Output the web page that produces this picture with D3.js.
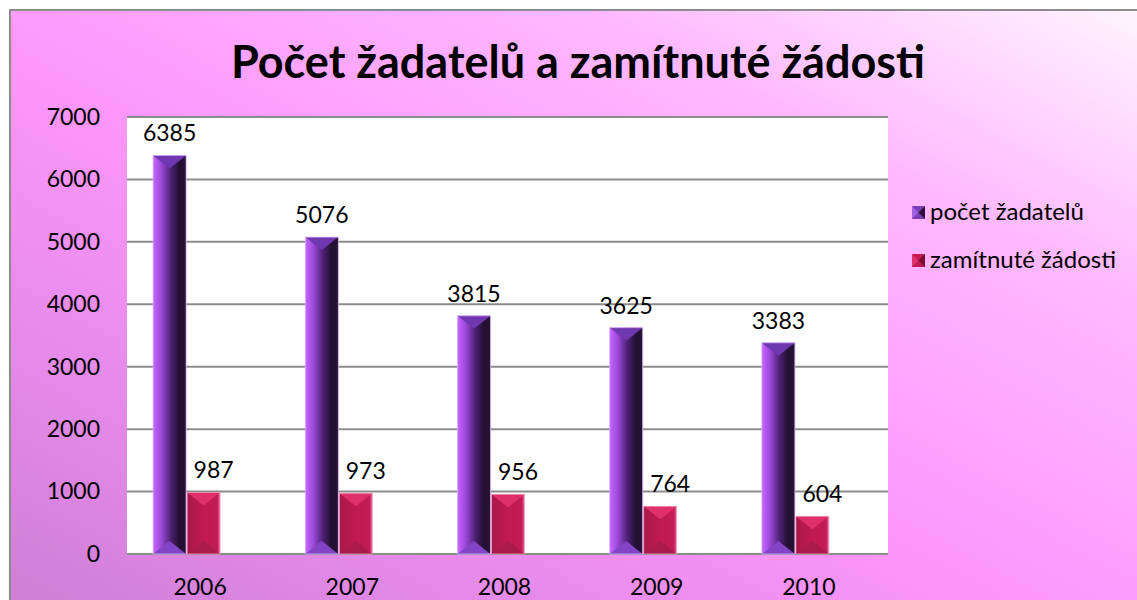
<!DOCTYPE html>
<html>
<head>
<meta charset="utf-8">
<script src="https://cdn.jsdelivr.net/npm/d3@7"></script>
<style>
  body { margin: 0; background: #fff; }
  svg { display: block; font-family: Lato, "Open Sans", sans-serif; }
</style>
</head>
<body>
<script>
(function() {

    // Data
    var years = ['2006', '2007', '2008', '2009', '2010'];
    var applicants = [6385, 5076, 3815, 3625, 3383];
    var rejected = [987, 973, 956, 764, 604];
    var seriesNames = ['počet žadatelů', 'zamítnuté žádosti'];
    var yTicks = [0, 1000, 2000, 3000, 4000, 5000, 6000, 7000];

    var W = 1137, H = 600;
    var plot = {left: 127, top: 117, right: 888, bottom: 554};

    var svg = d3.select('body').append('svg')
        .attr('width', W)
        .attr('height', H);

    var defs = svg.append('defs');

    // Chart background gradient
    var bg = defs.append('linearGradient')
        .attr('id', 'bg')
        .attr('x1', '0%').attr('y1', '100%')
        .attr('x2', '100%').attr('y2', '0%');
    bg.append('stop').attr('offset', '0%').attr('stop-color', '#cd7ed5');
    bg.append('stop').attr('offset', '45%').attr('stop-color', '#fc96fc');
    bg.append('stop').attr('offset', '75%').attr('stop-color', '#ffb8ff');
    bg.append('stop').attr('offset', '100%').attr('stop-color', '#fff6ff');

    // Purple bar body gradient
    var gp = defs.append('linearGradient').attr('id', 'gp');
    gp.append('stop').attr('offset', '0%').attr('stop-color', '#c866ff');
    gp.append('stop').attr('offset', '25%').attr('stop-color', '#9a48d8');
    gp.append('stop').attr('offset', '55%').attr('stop-color', '#4a2070');
    gp.append('stop').attr('offset', '80%').attr('stop-color', '#22102e');
    gp.append('stop').attr('offset', '100%').attr('stop-color', '#2a1238');

    // Red bar body gradient
    var gr = defs.append('linearGradient').attr('id', 'gr');
    gr.append('stop').attr('offset', '0%').attr('stop-color', '#a81848');
    gr.append('stop').attr('offset', '50%').attr('stop-color', '#c01a52');
    gr.append('stop').attr('offset', '92%').attr('stop-color', '#c41c56');
    gr.append('stop').attr('offset', '100%').attr('stop-color', '#f070a0');

    svg.append('rect')
        .attr('x', 10).attr('y', 10)
        .attr('width', W + 10).attr('height', H + 10)
        .attr('fill', 'url(#bg)')
        .attr('stroke', '#8c8c8c')
        .attr('stroke-width', 2);

    // Title
    svg.append('text')
        .attr('x', 578).attr('y', 78)
        .attr('text-anchor', 'middle')
        .attr('font-size', 45)
        .attr('font-weight', 'bold')
        .attr('fill', '#000')
        .text('Počet žadatelů a zamítnuté žádosti');

    // Scales
    var x = d3.scaleBand().domain(years).range([plot.left, plot.right]);
    var y = d3.scaleLinear().domain([0, 7000]).range([plot.bottom, plot.top]);

    // Plot area
    svg.append('rect')
        .attr('x', plot.left).attr('y', plot.top)
        .attr('width', plot.right - plot.left)
        .attr('height', plot.bottom - plot.top)
        .attr('fill', '#fff');

    // Gridlines
    svg.append('g')
        .selectAll('line')
        .data(yTicks)
        .enter().append('line')
        .attr('x1', plot.left).attr('x2', plot.right)
        .attr('y1', function(d) { return y(d); })
        .attr('y2', function(d) { return y(d); })
        .attr('stroke', '#8c8c8c')
        .attr('stroke-width', 2);

    // Y axis labels
    var yAxis = svg.append('g')
        .attr('transform', 'translate(' + (plot.left - 14) + ',0)')
        .call(d3.axisLeft(y).tickValues(yTicks).tickFormat(d3.format('d'))
            .tickSize(0).tickPadding(13));
    yAxis.select('.domain').remove();
    yAxis.selectAll('text')
        .attr('font-family', 'Lato, sans-serif')
        .attr('font-size', 23)
        .attr('fill', '#000');

    // X axis labels
    var xAxis = svg.append('g')
        .attr('transform', 'translate(-3,' + (plot.bottom + 25) + ')')
        .call(d3.axisBottom(x).tickSize(0).tickPadding(0));
    xAxis.select('.domain').remove();
    xAxis.selectAll('text')
        .attr('font-family', 'Lato, sans-serif')
        .attr('font-size', 23)
        .attr('fill', '#000');

    var bw = 33;
    function barX(year, s) {
        return x(year) + x.bandwidth() / 2 - 50 + s * 34;
    }

    // Draw one bevelled bar
    function drawBar(g, x0, v, s) {
        var top = y(v), bot = y(0);
        var cap = 13;
        var xc = x0 + bw / 2;
        g.append('rect')
            .attr('x', x0).attr('y', top)
            .attr('width', bw).attr('height', bot - top)
            .attr('fill', s === 0 ? 'url(#gp)' : 'url(#gr)');
        g.append('path')
            .attr('d', 'M' + x0 + ',' + top + 'L' + (x0 + bw) + ',' + top +
                'L' + xc + ',' + (top + cap) + 'Z')
            .attr('fill', s === 0 ? '#7038b0' : '#e0306c');
        g.append('path')
            .attr('d', 'M' + x0 + ',' + bot + 'L' + (x0 + bw) + ',' + bot +
                'L' + xc + ',' + (bot - cap) + 'Z')
            .attr('fill', s === 0 ? '#8344c8' : '#aa1a4a');
        g.append('rect')
            .attr('x', x0).attr('y', top)
            .attr('width', bw).attr('height', bot - top)
            .attr('fill', 'none')
            .attr('stroke', s === 0 ? '#d9b0ff' : '#f0a0c0')
            .attr('stroke-width', 0.8);
    }

    var bars = svg.append('g');
    [applicants, rejected].forEach(function(vals, s) {
        vals.forEach(function(v, i) {
            drawBar(bars, barX(years[i], s), v, s);
        });
    });

    // Data labels
    var labels = svg.append('g')
        .attr('font-size', 23)
        .attr('text-anchor', 'middle')
        .attr('fill', '#000');
    [applicants, rejected].forEach(function(vals, s) {
        labels.selectAll(null)
            .data(vals)
            .enter().append('text')
            .attr('x', function(d, i) { return barX(years[i], s) + bw / 2 + (s === 0 ? 0 : 10); })
            .attr('y', function(d) { return y(d) - 14; })
            .text(function(d) { return d; });
    });

    // Legend
    var legend = svg.append('g');
    var legendColors = [['#7a3cb8', '#2a1238'], ['#c01a52', '#7a1030']];
    seriesNames.forEach(function(name, i) {
        var ly = 212 + i * 48;
        var lx = 912;
        legend.append('rect')
            .attr('x', lx).attr('y', ly - 6)
            .attr('width', 13).attr('height', 13)
            .attr('fill', legendColors[i][0]);
        legend.append('path')
            .attr('d', 'M' + lx + ',' + (ly - 6) + 'L' + (lx + 6.5) + ',' + (ly + 0.5) +
                'L' + lx + ',' + (ly + 7) + 'Z')
            .attr('fill', i === 0 ? '#a060e0' : '#e0306c');
        legend.append('path')
            .attr('d', 'M' + (lx + 13) + ',' + (ly - 6) + 'L' + (lx + 6.5) + ',' + (ly + 0.5) +
                'L' + (lx + 13) + ',' + (ly + 7) + 'Z')
            .attr('fill', legendColors[i][1]);
        legend.append('text')
            .attr('x', lx + 18).attr('y', ly + 8)
            .attr('font-size', 24)
            .attr('fill', '#000')
            .text(name);
    });

})();
</script>
</body>
</html>
